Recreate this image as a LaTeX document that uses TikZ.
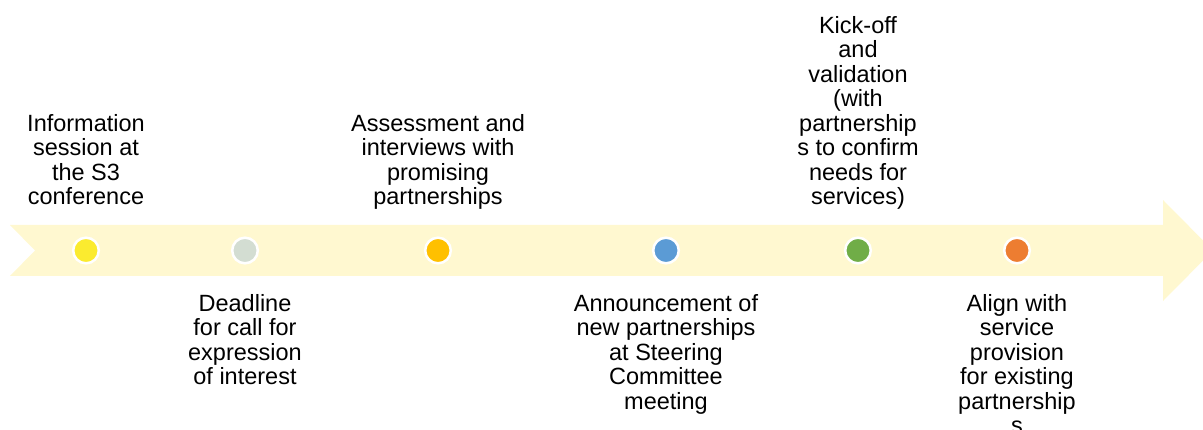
\documentclass[tikz,border=0pt]{standalone}
\usepackage{fontspec}
\setmainfont{Liberation Sans}
\usetikzlibrary{positioning}

\definecolor{ribbon}{HTML}{FFF8D0}
\definecolor{dotyellow}{HTML}{FBEB2F}
\definecolor{dotgray}{HTML}{D3DDD2}
\definecolor{dotamber}{HTML}{FFC000}
\definecolor{dotblue}{HTML}{5B9BD5}
\definecolor{dotgreen}{HTML}{70AD47}
\definecolor{dotorange}{HTML}{ED7D31}

\tikzset{
  milestone/.style={circle, draw=white, line width=2.5pt, minimum size=25.6pt, inner sep=0pt},
  uplabel/.style={anchor=south, align=center, inner sep=0pt, font=\fontsize{23.5}{24.5}\selectfont},
  downlabel/.style={anchor=north, align=center, inner sep=0pt, font=\fontsize{23.5}{24.5}\selectfont}
}

\begin{document}
\begin{tikzpicture}[x=1pt, y=-1pt]
      % Fix the page size
      \useasboundingbox (0,0) rectangle (1203,430);

      % Draw the timeline ribbon
      \fill[ribbon] (10,225) -- (1163,225) -- (1163,200) -- (1213,250.5) -- (1163,301)
        -- (1163,276) -- (10,276) -- (35,250.5) -- cycle;

      % Draw the milestones
      \foreach \name/\x/\col in {info/86/dotyellow, deadline/245/dotgray, assess/438/dotamber,
                                 announce/666/dotblue, kickoff/858/dotgreen, align/1017/dotorange}
        \node[milestone, fill=\col] (\name) at (\x,250.5) {};

      % Add labels above the ribbon
      \node[uplabel] (infotext) at (86,210) {Information\\session at\\the S3\\conference\vphantom{p}};
      \node[uplabel] (assesstext) at (438,210) {Assessment and\\interviews with\\promising\\partnerships};
      \node[uplabel] (kickofftext) at (858,210) {Kick-off\\and\\validation\\(with\\partnership\\s to confirm\\needs for\\services)};

      % Add labels below the ribbon
      \node[downlabel] (deadlinetext) at (245,294) {Deadline\\for call for\\expression\\of interest};
      \node[downlabel] (announcetext) at (666,294) {Announcement of\\new partnerships\\at Steering\\Committee\\meeting};
      \node[downlabel] (aligntext) at (1017,294) {Align with\\service\\provision\\for existing\\partnership\\s};
  \end{tikzpicture}
\end{document}
